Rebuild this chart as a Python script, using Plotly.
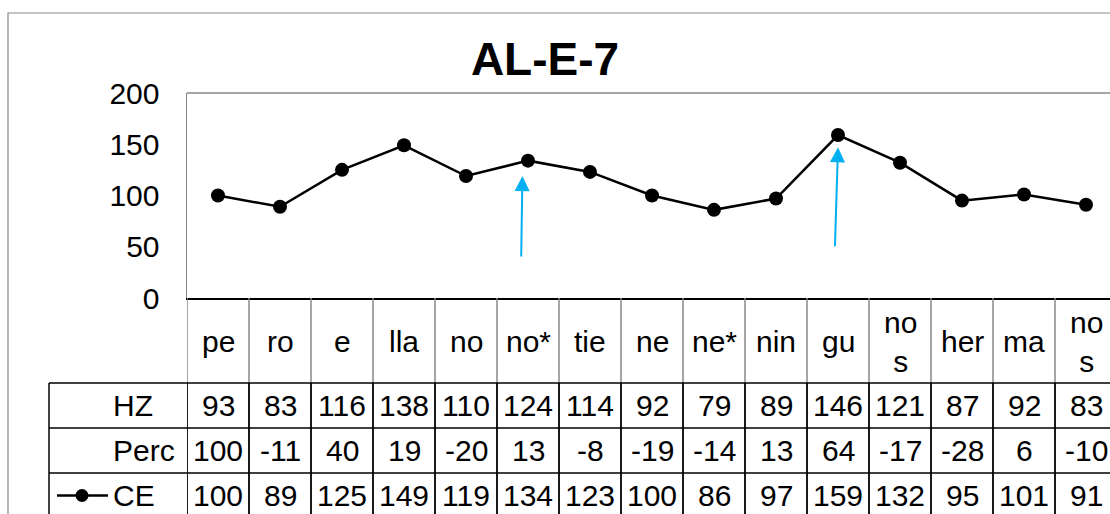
import plotly.graph_objects as go

# ---------------- data ----------------
title = "AL-E-7"
categories = ["pe", "ro", "e", "lla", "no", "no*", "tie", "ne", "ne*", "nin",
              "gu", "no<br>s", "her", "ma", "no<br>s"]
hz = [93, 83, 116, 138, 110, 124, 114, 92, 79, 89, 146, 121, 87, 92, 83]
perc = [100, -11, 40, 19, -20, 13, -8, -19, -14, 13, 64, -17, -28, 6, -10]
ce = [100, 89, 125, 149, 119, 134, 123, 100, 86, 97, 159, 132, 95, 101, 91]
row_names = ["HZ", "Perc", "CE"]
y_ticks = [0, 50, 100, 150, 200]
# arrows: (tip x, tip y, tail x, tail y) in data units
arrows = [(4.91, 119, 4.89, 39), (10.0, 147, 9.95, 49)]

# ---------------- layout helpers ----------------
W, H = 1110, 514
FONT = "Liberation Sans, Arial, sans-serif"
def px(p):
    return p / W
def py(p):
    return 1 - p / H

plot_left, plot_top, plot_bottom = 187, 93, 298
col_w = 62
n = len(categories)
x_max = -0.5 + (W - plot_left) / col_w

header_bottom = 383
row_h = 45
table_left = 49
GRAY = "#898989"

fig = go.Figure()
x_idx = list(range(n))
fig.add_trace(go.Scatter(
    x=x_idx, y=ce, mode="lines+markers", name=row_names[2],
    line=dict(color="black", width=2.5),
    marker=dict(color="black", size=14),
    showlegend=False, cliponaxis=False, hoverinfo="skip",
))

shapes = []
annotations = []

# outer chart border
shapes.append(dict(type="rect", xref="paper", yref="paper",
                   x0=px(8), x1=1.05, y0=-0.05, y1=py(13),
                   line=dict(color=GRAY, width=1.2), layer="below"))
# plot area top border
shapes.append(dict(type="line", xref="paper", yref="paper",
                   x0=px(plot_left), x1=1.0, y0=py(plot_top), y1=py(plot_top),
                   line=dict(color=GRAY, width=1.5)))

# header row vertical lines (gray)
for k in range(n + 1):
    shapes.append(dict(type="line", xref="x", yref="paper",
                       x0=k - 0.5, x1=k - 0.5, y0=py(plot_bottom), y1=py(header_bottom),
                       line=dict(color=GRAY, width=1.5)))
# data rows vertical lines (black)
for k in range(n + 1):
    shapes.append(dict(type="line", xref="x", yref="paper",
                       x0=k - 0.5, x1=k - 0.5, y0=py(header_bottom), y1=-0.05,
                       line=dict(color="black", width=1.8)))
shapes.append(dict(type="line", xref="paper", yref="paper",
                   x0=px(table_left), x1=px(table_left), y0=py(header_bottom), y1=-0.05,
                   line=dict(color="black", width=1.5)))
# horizontal lines
for r in range(3):
    yy = header_bottom + r * row_h
    shapes.append(dict(type="line", xref="paper", yref="paper",
                       x0=px(table_left), x1=1.0, y0=py(yy), y1=py(yy),
                       line=dict(color="black", width=1.5)))

# category labels
hdr_mid = (plot_bottom + header_bottom) / 2 + 1
for i, c in enumerate(categories):
    annotations.append(dict(x=i, y=py(hdr_mid), xref="x", yref="paper",
                            text=c, showarrow=False, xanchor="center", yanchor="middle",
                            font=dict(family=FONT, size=30, color="black")))

# data rows
rows = [hz, perc, ce]
for r, vals in enumerate(rows):
    yc = header_bottom + r * row_h + row_h / 2
    annotations.append(dict(x=px(111), y=py(yc), xref="paper", yref="paper",
                            text=row_names[r], showarrow=False, xanchor="left",
                            yanchor="middle",
                            font=dict(family=FONT, size=30, color="black")))
    for i, v in enumerate(vals):
        annotations.append(dict(x=i, y=py(yc), xref="x", yref="paper",
                                text=str(v), showarrow=False, xanchor="center",
                                yanchor="middle",
                                font=dict(family=FONT, size=30, color="black")))

# legend key for CE row
key_y = header_bottom + 2 * row_h + row_h / 2
shapes.append(dict(type="line", xref="paper", yref="paper",
                   x0=px(57), x1=px(108), y0=py(key_y), y1=py(key_y),
                   line=dict(color="black", width=2.5)))
shapes.append(dict(type="circle", xref="paper", yref="paper",
                   x0=px(82 - 6.5), x1=px(82 + 6.5), y0=py(key_y + 6.5), y1=py(key_y - 6.5),
                   fillcolor="black", line=dict(color="black", width=0)))

# blue arrows
for (tx, ty, ax_, ay_) in arrows:
    annotations.append(dict(x=tx, y=ty, ax=ax_, ay=ay_, xref="x", yref="y",
                            axref="x", ayref="y", text="", showarrow=True,
                            arrowhead=2, arrowsize=1.5, arrowwidth=2,
                            arrowcolor="#00B0F0", standoff=0))

fig.update_layout(
    width=W, height=H,
    margin=dict(l=0, r=0, t=0, b=0, pad=0, autoexpand=False),
    paper_bgcolor="white", plot_bgcolor="white",
    title=dict(text="<b>" + title + "</b>", x=545 / W, xanchor="center",
               y=py(59), yanchor="middle", yref="container",
               font=dict(family=FONT, size=46, color="black")),
    xaxis=dict(domain=[px(plot_left), 1.0], range=[-0.5, x_max], automargin=False,
               showticklabels=False, showgrid=False, zeroline=False,
               showline=True, linecolor="black", linewidth=2, ticks=""),
    yaxis=dict(domain=[py(plot_bottom), py(plot_top)], range=[0, 200], automargin=False,
               tickvals=y_ticks, showgrid=False, zeroline=False,
               showline=True, linecolor=GRAY, linewidth=1.5, ticks="",
               ticklabelstandoff=20,
               tickfont=dict(family=FONT, size=30, color="black")),
    shapes=shapes,
    annotations=annotations,
    showlegend=False,
    hovermode=False,
)

fig.write_html("out.html",
               config={"displayModeBar": False, "staticPlot": True},
               post_script="document.body.style.margin='0';document.body.style.overflow='hidden';")
